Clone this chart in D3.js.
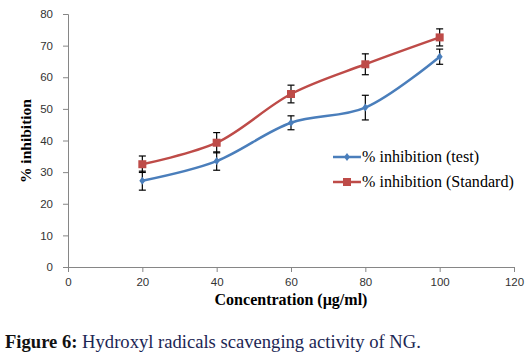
<!DOCTYPE html>
<html><head><meta charset="utf-8">
<script src="https://cdn.jsdelivr.net/npm/d3@7"></script>
<style>body{margin:0;background:#fff}svg{display:block}
.serif{font-family:"Liberation Serif","Times New Roman",serif}
.sans{font-family:"Liberation Sans",Arial,sans-serif}
</style>
</head><body>
<svg id="c" width="528" height="357"></svg>
<script>
const concentrations = [20, 40, 60, 80, 100];
const testValues = [27.3, 33.5, 45.6, 50.4, 66.5];
const testErrors = [3.0, 2.9, 2.2, 3.9, 2.4];
const standardValues = [32.5, 39.3, 54.7, 64.1, 72.6];
const standardErrors = [2.6, 3.2, 2.8, 3.3, 2.7];
const xTicks = [0, 20, 40, 60, 80, 100, 120];
const yTicks = [0, 10, 20, 30, 40, 50, 60, 70, 80];
const seriesNames = ["% inhibition (test)", "% inhibition (Standard)"];

const svg = d3.select("#c");
const x = d3.scaleLinear().domain([0, 120]).range([68, 514]);
const y = d3.scaleLinear().domain([0, 80]).range([267, 14]);

const axisColor = "#868686";

// fit a text element's font size so its width approximates a target
function fit(sel, target, base) {
  const n = sel.node();
  const w = n.getComputedTextLength();
  if (w > 0) sel.style("font-size", (base * target / w).toFixed(2) + "px");
  return sel;
}

const xAxis = svg.append("g").attr("transform", `translate(0,${y(0)})`)
  .call(d3.axisBottom(x).tickValues(xTicks).tickSize(5).tickPadding(6).tickFormat(d3.format("d")));
const yAxis = svg.append("g").attr("transform", `translate(${x(0)},0)`)
  .call(d3.axisLeft(y).tickValues(yTicks).tickSize(5).tickPadding(10).tickFormat(d3.format("d")));
[xAxis, yAxis].forEach(a => {
  a.attr("font-family", null);
  a.select(".domain").attr("stroke", axisColor).attr("stroke-width", 1);
  a.selectAll(".tick line").attr("stroke", axisColor);
  a.selectAll(".tick text").attr("class", "sans").attr("fill", "#333").style("font-size", "11.5px");
});

const series = [
  {name: seriesNames[0], vals: testValues, errs: testErrors, color: "#4a7ebb", marker: "diamond"},
  {name: seriesNames[1], vals: standardValues, errs: standardErrors, color: "#be4b48", marker: "square"}
];

const line = d3.line().x(d => x(d[0])).y(d => y(d[1])).curve(d3.curveCatmullRom.alpha(0.5));

series.forEach(s => {
  const pts = concentrations.map((c, i) => [c, s.vals[i]]);
  svg.append("path").attr("d", line(pts)).attr("fill", "none")
    .attr("stroke", s.color).attr("stroke-width", 2.5);
});

// error bars
series.forEach(s => {
  const g = svg.append("g").attr("stroke", "#000").attr("stroke-width", 1.2);
  concentrations.forEach((c, i) => {
    const cx = x(c), y1 = y(s.vals[i] + s.errs[i]), y2 = y(s.vals[i] - s.errs[i]);
    g.append("line").attr("x1", cx).attr("x2", cx).attr("y1", y1).attr("y2", y2);
    g.append("line").attr("x1", cx - 3.5).attr("x2", cx + 3.5).attr("y1", y1).attr("y2", y1);
    g.append("line").attr("x1", cx - 3.5).attr("x2", cx + 3.5).attr("y1", y2).attr("y2", y2);
  });
});

function drawMarker(g, type, cx, cy, color) {
  if (type === "square") {
    g.append("rect").attr("x", cx - 4).attr("y", cy - 4).attr("width", 8).attr("height", 8).attr("fill", color);
  } else {
    g.append("path").attr("d", `M${cx},${cy-4}L${cx+3},${cy}L${cx},${cy+4}L${cx-3},${cy}Z`).attr("fill", color);
  }
}
series.forEach(s => {
  const g = svg.append("g");
  concentrations.forEach((c, i) => drawMarker(g, s.marker, x(c), y(s.vals[i]), s.color));
});

// legend
const legY = [157, 182];
let legendSize = null;
series.forEach((s, i) => {
  const g = svg.append("g");
  g.append("line").attr("x1", 333).attr("x2", 361).attr("y1", legY[i]).attr("y2", legY[i])
    .attr("stroke", s.color).attr("stroke-width", 2.5);
  drawMarker(g, s.marker, 347, legY[i], s.color);
  const t = g.append("text").attr("class", "serif").attr("x", 362).attr("y", legY[i] + 5).text(s.name)
    .style("font-size", "16px").attr("fill", "#000");
  if (i === 0) { fit(t, 117, 16); legendSize = t.style("font-size"); }
  else t.style("font-size", legendSize);
});

// axis titles
const xt = svg.append("text").attr("class", "serif").attr("x", 291).attr("y", 305).attr("text-anchor", "middle")
  .style("font-weight", "bold").style("font-size", "15px")
  .text("Concentration (µg/ml)");
fit(xt, 153, 15);
const yt = svg.append("text").attr("class", "serif").attr("transform", "translate(31,141) rotate(-90)").attr("text-anchor", "middle")
  .style("font-weight", "bold").style("font-size", "15px")
  .text("% inhibition");
fit(yt, 84, 15);

// caption
const cap = svg.append("text").attr("class", "serif").attr("x", 5).attr("y", 348)
  .style("font-size", "18.5px");
cap.append("tspan").attr("fill", "#111").style("font-weight", "bold").text("Figure 6:");
cap.append("tspan").attr("fill", "#1c2654").text(" Hydroxyl radicals scavenging activity of NG.");
fit(cap, 416, 18.5);
</script>
</body></html>
